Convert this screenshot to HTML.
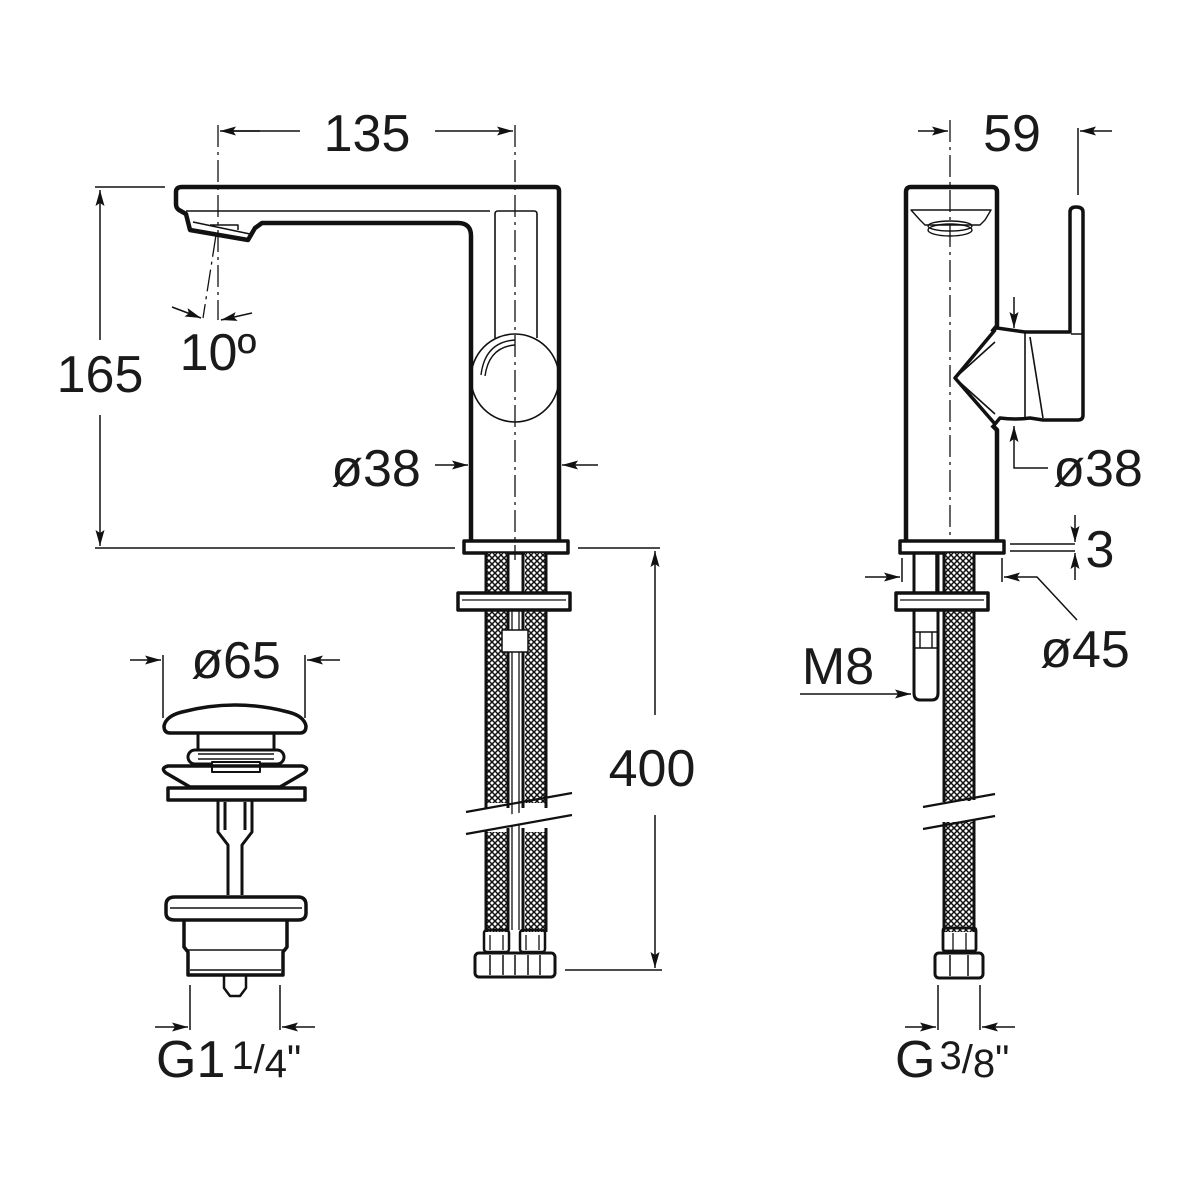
<!DOCTYPE html>
<html><head><meta charset="utf-8"><style>
html,body{margin:0;padding:0;background:#fff}
svg{display:block}
text{font-family:"Liberation Sans",sans-serif;fill:#1a1a1a}
</style></head><body>
<svg width="1200" height="1200" viewBox="0 0 1200 1200" xmlns="http://www.w3.org/2000/svg">
<defs>
<pattern id="hx" width="6" height="6" patternUnits="userSpaceOnUse">
<rect width="6" height="6" fill="#fff"/>
<path d="M0 0L6 6M6 0L0 6" stroke="#111" stroke-width="1.5"/>
</pattern>
<marker id="ar" viewBox="0 0 16 10" refX="16" refY="5" markerWidth="16" markerHeight="10" markerUnits="userSpaceOnUse" orient="auto"><path d="M0 0.5L16 5L0 9.5L3 5z" fill="#111"/></marker>
</defs>
<g fill="none" stroke="#111" stroke-linejoin="round">

<!-- ===== LEFT FAUCET ===== -->
<g stroke-width="1.3" stroke-dasharray="22,5,3,5">
<line x1="515" y1="125" x2="515" y2="560"/>
<line x1="218" y1="125" x2="218" y2="320"/>
<line x1="216" y1="235" x2="203" y2="318"/>
</g>
<path d="M182 187 H555 Q559 187 559 191 V541 M471 541 V236 Q471 223 458 223 H262 L255 228 L248 240 L190 230 L186 214 L179 210 Q176 208 176 204 V192 Q176 187 182 187" stroke-width="4.5"/>
<path d="M186 211 H490" stroke-width="1.6"/>
<path d="M193 222 L250 234 M210 225 H238 V230" stroke-width="1.5"/>
<path d="M495 338 V214 Q495 211 498 211 H534 Q537 211 537 214 V338" stroke-width="1.6"/>
<circle cx="515" cy="378" r="44" stroke-width="1.6"/>
<path d="M481 375 Q485 342 515 340 M485 376 Q489 347 515 345" stroke-width="1.4"/>
<rect x="464" y="541" width="104" height="12" stroke-width="3.5"/>
<!-- hoses -->
<rect x="487" y="553" width="20" height="250" fill="url(#hx)" stroke="none"/>
<rect x="525" y="553" width="20" height="250" fill="url(#hx)" stroke="none"/>
<rect x="487" y="832" width="20" height="100" fill="url(#hx)" stroke="none"/>
<rect x="525" y="832" width="20" height="100" fill="url(#hx)" stroke="none"/>
<path d="M486 553 V808 M486 828 V932 M508 553 V808 M508 828 V932 M523 553 V808 M523 828 V932 M546 553 V808 M546 828 V932" stroke-width="3"/>
<path d="M512 610 V930 M519 610 V930" stroke-width="1.3"/>
<rect x="458" y="593" width="112" height="17" fill="#fff" stroke-width="3.5"/>
<line x1="462" y1="600" x2="566" y2="600" stroke-width="1.3"/>
<rect x="502" y="630" width="26" height="22" fill="#fff" stroke-width="1.5"/>
<rect x="480" y="812" width="90" height="12" fill="#fff" stroke="none" transform="rotate(-10 525 818)"/>
<path d="M466 812 L572 793 M466 834 L572 815" stroke-width="2.2"/>
<rect x="484" y="930" width="25" height="22" rx="3" stroke-width="2.5"/>
<rect x="520" y="930" width="25" height="22" rx="3" stroke-width="2.5"/>
<path d="M490 935 V950 M503 935 V950 M526 935 V950 M539 935 V950" stroke-width="1.3"/>
<rect x="475" y="953" width="80" height="24" rx="4" stroke-width="3"/>
<path d="M490 955 V975 M503 955 V975 M515 955 V975 M528 955 V975 M540 955 V975" stroke-width="1.5"/>

<!-- ===== RIGHT FAUCET ===== -->
<g stroke-width="1.3" stroke-dasharray="22,5,3,5">
<line x1="950" y1="120" x2="950" y2="540"/>
</g>
<path d="M906 541 V192 Q906 187 911 187 H992 Q997 187 997 192 V326 L992 332 M992 425 L997 430 V541" stroke-width="4.5"/>
<path d="M911 210 H991 L985 220 L980 225 H925 L920 220 Z" stroke-width="1.4"/>
<ellipse cx="950" cy="230" rx="22" ry="6" stroke-width="1.4"/>
<ellipse cx="950" cy="226" rx="22" ry="5" stroke-width="1.4"/>
<path d="M997 328 L1025 332 H1070 V212 Q1070 207 1076 207 Q1083 207 1083 212 V415 Q1083 420 1078 420 H1043 L1030 418 Q1015 420 1000 418 L995 424 L955 378 L995 330" stroke-width="3.5"/>
<path d="M1025 332 V418 M1030 337 L1043 418 M955 378 L995 342 M955 378 L995 414 M1071 334 H1082" stroke-width="1.6"/>
<rect x="900" y="541" width="104" height="12" stroke-width="3.5"/>
<rect x="945" y="553" width="28" height="248" fill="url(#hx)" stroke="none"/>
<rect x="945" y="822" width="28" height="110" fill="url(#hx)" stroke="none"/>
<path d="M944 553 V802 M944 822 V932 M974 553 V800 M974 820 V932" stroke-width="3"/>
<path d="M914 553 V693 Q914 700 920 700 H932 Q938 700 938 693 V553" stroke-width="3"/>
<line x1="936" y1="553" x2="936" y2="600" stroke-width="1.5"/>
<path d="M914 632 H938 M914 648 H938 M920 632 V648 M932 632 V648" stroke-width="1.4"/>
<rect x="896" y="593" width="92" height="17" fill="#fff" stroke-width="3.5"/>
<line x1="900" y1="600" x2="984" y2="600" stroke-width="1.3"/>
<path d="M923 807 L995 794 M923 829 L995 816" stroke-width="2.2"/>
<rect x="943" y="928" width="33" height="23" rx="2" stroke-width="2.8"/>
<path d="M953 933 V950 M966 933 V950" stroke-width="1.3"/>
<rect x="935" y="953" width="48" height="25" rx="4" stroke-width="3"/>
<path d="M950 955 V976 M968 955 V976" stroke-width="1.5"/>

<!-- ===== DRAIN ===== -->
<path d="M170 733 Q164 733 164 726 Q166 716 182 712 Q235 698 288 712 Q304 716 306 726 Q306 733 300 733 Z" stroke-width="3.5"/>
<rect x="198" y="733" width="76" height="30" stroke-width="3"/>
<rect x="188" y="750" width="96" height="14" rx="7" fill="#fff" stroke-width="3"/>
<path d="M198 754 H274 M198 759 H274" stroke-width="1.4"/>
<rect x="212" y="762" width="48" height="10" fill="#fff" stroke-width="2"/>
<path d="M166 773 Q160 768 168 766 H302 Q310 768 304 773 L280 787 H190 Z" stroke-width="3.5"/>
<rect x="168" y="788" width="137" height="12" stroke-width="3.5"/>
<path d="M218 800 V832 L228 845 V895 M252 800 V832 L242 845 V895 M225 802 V830 M245 802 V830" stroke-width="3"/>
<path d="M175 897 H298 Q306 897 306 905 V913 Q306 920 298 920 H175 Q166 920 166 913 V905 Q166 897 175 897 Z" stroke-width="3.5"/>
<line x1="170" y1="908" x2="302" y2="908" stroke-width="1.4"/>
<path d="M184 920 V947 L188 952 V975 H283 V952 L287 947 V920" stroke-width="3.5"/>
<path d="M188 950 H283 M190 970 H281" stroke-width="1.4"/>
<path d="M224 975 V988 L230 996 H240 L246 988 V975" stroke-width="2.5"/>

<!-- ===== DIMENSIONS ===== -->
<g stroke-width="1.5">
<line x1="260" y1="131" x2="220" y2="131" marker-end="url(#ar)"/>
<line x1="225" y1="131" x2="300" y2="131"/>
<line x1="435" y1="131" x2="513" y2="131" marker-end="url(#ar)"/>
<line x1="95" y1="187" x2="165" y2="187"/>
<line x1="95" y1="548" x2="455" y2="548"/>
<line x1="578" y1="548" x2="660" y2="548"/>
<line x1="100" y1="340" x2="100" y2="190" marker-end="url(#ar)"/>
<line x1="100" y1="415" x2="100" y2="546" marker-end="url(#ar)"/>
<line x1="172" y1="307" x2="201" y2="318" marker-end="url(#ar)"/>
<line x1="252" y1="313" x2="221" y2="320" marker-end="url(#ar)"/>
<line x1="435" y1="465" x2="468" y2="465" marker-end="url(#ar)"/>
<line x1="598" y1="465" x2="562" y2="465" marker-end="url(#ar)"/>
<line x1="655" y1="715" x2="655" y2="551" marker-end="url(#ar)"/>
<line x1="655" y1="815" x2="655" y2="968" marker-end="url(#ar)"/>
<line x1="565" y1="970" x2="662" y2="970"/>
<line x1="163" y1="655" x2="163" y2="718"/>
<line x1="305" y1="655" x2="305" y2="718"/>
<line x1="130" y1="660" x2="161" y2="660" marker-end="url(#ar)"/>
<line x1="340" y1="660" x2="307" y2="660" marker-end="url(#ar)"/>
<line x1="190" y1="985" x2="190" y2="1030"/>
<line x1="280" y1="985" x2="280" y2="1030"/>
<line x1="155" y1="1027" x2="188" y2="1027" marker-end="url(#ar)"/>
<line x1="315" y1="1027" x2="282" y2="1027" marker-end="url(#ar)"/>
<line x1="938" y1="985" x2="938" y2="1030"/>
<line x1="980" y1="985" x2="980" y2="1030"/>
<line x1="905" y1="1027" x2="936" y2="1027" marker-end="url(#ar)"/>
<line x1="1015" y1="1027" x2="982" y2="1027" marker-end="url(#ar)"/>
<line x1="1078" y1="128" x2="1078" y2="195"/>
<line x1="918" y1="131" x2="948" y2="131" marker-end="url(#ar)"/>
<line x1="1112" y1="131" x2="1080" y2="131" marker-end="url(#ar)"/>
<line x1="1014" y1="297" x2="1014" y2="328" marker-end="url(#ar)"/>
<polyline points="1048,468 1014,468 1014,426" marker-end="url(#ar)"/>
<line x1="1010" y1="544" x2="1075" y2="544"/>
<line x1="1010" y1="551" x2="1075" y2="551"/>
<line x1="1075" y1="515" x2="1075" y2="542" marker-end="url(#ar)"/>
<line x1="1075" y1="580" x2="1075" y2="553" marker-end="url(#ar)"/>
<line x1="902" y1="558" x2="902" y2="582"/>
<line x1="1002" y1="558" x2="1002" y2="582"/>
<line x1="865" y1="577" x2="900" y2="577" marker-end="url(#ar)"/>
<polyline points="1077,620 1037,577 1004,577" marker-end="url(#ar)"/>
<line x1="800" y1="694" x2="911" y2="694" marker-end="url(#ar)"/>
</g>
</g>

<g font-size="52">
<text x="367" y="151" text-anchor="middle">135</text>
<text x="100" y="392" text-anchor="middle">165</text>
<text x="218" y="370" text-anchor="middle">10º</text>
<text x="376" y="486" text-anchor="middle">ø38</text>
<text x="652" y="786" text-anchor="middle">400</text>
<text x="236" y="678" text-anchor="middle">ø65</text>
<text x="1012" y="151" text-anchor="middle">59</text>
<text x="1098" y="486" text-anchor="middle">ø38</text>
<text x="1100" y="567" text-anchor="middle">3</text>
<text x="1085" y="667" text-anchor="middle">ø45</text>
<text x="838" y="684" text-anchor="middle">M8</text>
<text x="156" y="1077">G1<tspan font-size="40" dx="6" dy="-8">1</tspan><tspan font-size="40" dy="4">/</tspan><tspan font-size="40" dy="4">4</tspan><tspan font-size="40" dy="-4">"</tspan></text>
<text x="895" y="1077">G<tspan font-size="40" dx="4" dy="-8">3</tspan><tspan font-size="40" dy="4">/</tspan><tspan font-size="40" dy="4">8</tspan><tspan font-size="40" dy="-4">"</tspan></text>
</g>
</svg>
</body></html>
